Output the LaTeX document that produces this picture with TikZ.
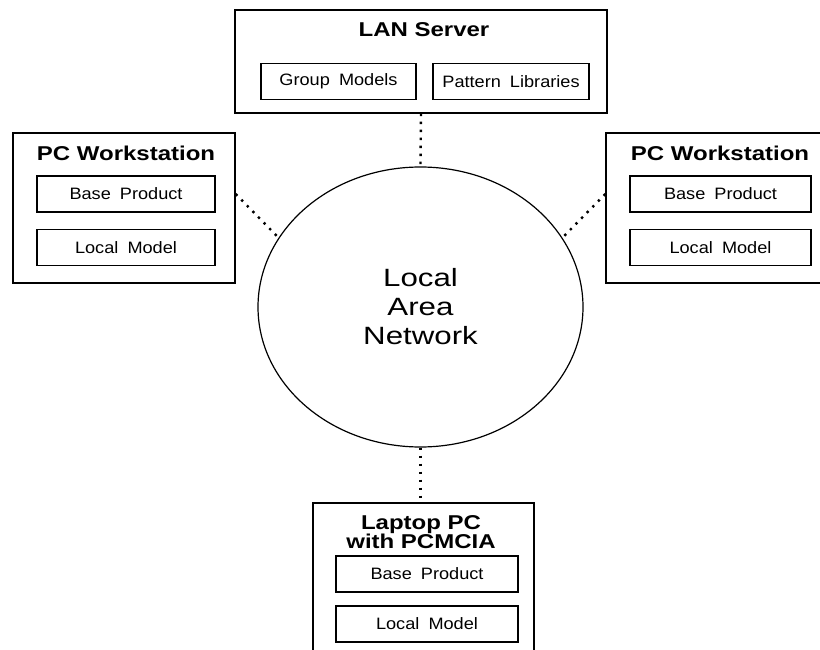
\documentclass[tikz,border=0pt]{standalone}
\usepackage{fontspec}
\usepackage{tikz}
\usetikzlibrary{shapes.geometric}
\newfontfamily\titlefont[FakeStretch=1.2]{Liberation Sans}
\newfontfamily\boxfont[FakeStretch=1.1,WordSpace=1.8]{Liberation Sans}
\newfontfamily\lanfont[FakeStretch=1.25]{Liberation Sans}

\tikzset{
  outerbox/.style={draw, line width=1.4pt, inner sep=0pt},
  innerbox/.style={draw, line width=1.3pt, minimum height=36pt, inner sep=0pt,
    font=\boxfont\fontsize{16.5}{18}\selectfont},
  boxtitle/.style={align=center, inner sep=0pt,
    font=\titlefont\bfseries\fontsize{20}{18}\selectfont},
  link/.style={line width=2.4pt, dash pattern=on 2.4pt off 5.6pt}
}

\begin{document}
\begin{tikzpicture}[x=1pt,y=-1pt]

          \clip (0,0) rectangle (820,650);

          % server on top
          \node[outerbox, minimum width=372pt, minimum height=103pt] (srv) at (421,61.5) {};
          \node[boxtitle] (srvt) at (424,30) {LAN Server};
          \node[innerbox, minimum width=155pt] (srvg) at (338.5,81.5) {Group Models};
          \node[innerbox, minimum width=156pt] (srvp) at (511,81.5) {Pattern Libraries};

          % workstations
          \node[outerbox, minimum width=222pt, minimum height=150pt] (ws1) at (124,208) {};
          \node[boxtitle] (ws1t) at (126,153) {PC Workstation};
          \node[innerbox, minimum width=178pt] (ws1base) at (126,194) {Base Product};
          \node[innerbox, minimum width=178pt] (ws1loc) at (126,247.5) {Local Model};

          \node[outerbox, minimum width=225pt, minimum height=150pt] (ws2) at (718.5,208) {};
          \node[boxtitle] (ws2t) at (720,153) {PC Workstation};
          \node[innerbox, minimum width=181pt] (ws2base) at (720.5,194) {Base Product};
          \node[innerbox, minimum width=181pt] (ws2loc) at (720.5,247.5) {Local Model};

          % the network
          \node[draw, ellipse, line width=1.2pt, minimum width=325pt, minimum height=280pt,
                align=center, font=\lanfont\fontsize{25}{29}\selectfont] (lan) at (420.5,307)
                {Local\\Area\\Network};

          % laptop at the bottom
          \node[outerbox, minimum width=221pt, minimum height=156pt] (lap) at (423.5,581) {};
          \node[boxtitle] (lapt) at (421,532) {Laptop PC\\with PCMCIA};
          \node[innerbox, minimum width=182pt] (lapbase) at (427,574) {Base Product};
          \node[innerbox, minimum width=182pt] (laploc) at (427,624) {Local Model};

          \draw[link] (srv.south) -- (lan.north);
          \draw[link] (lan.south) -- (lan.south |- lap.north);
          \draw[link] (ws1.east |- ws1base) -- (lan.154);
          \draw[link] (ws2.west |- ws2base) -- (lan.26);

        \end{tikzpicture}
\end{document}
